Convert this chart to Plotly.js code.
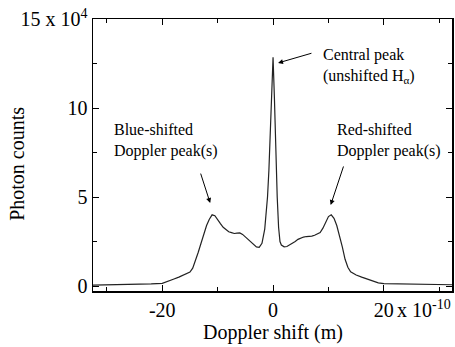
<!DOCTYPE html>
<html>
<head>
<meta charset="utf-8">
<script src="https://cdn.plot.ly/plotly-3.0.1.min.js"></script>
<style>html,body{margin:0;padding:0;background:#fff;}#chart{width:455px;height:347px;}</style>
</head>
<body>
<div id="chart"></div>
<script>
// Doppler shift (units of 1e-10 m)
const shift = [-32.5,-30,-25,-22,-20,-19,-18,-17,-16,-15,-14.5,-14,-13.5,-13,-12.5,-12,-11.5,-11,-10.5,-10,-9.5,-9,-8.5,-8,-7.5,-7,-6.5,-6,-5.5,-5,-4.5,-4,-3.5,-3,-2.5,-2,-1.5,-1,-0.75,-0.5,-0.25,0,0.25,0.5,0.75,1,1.25,1.5,2,2.5,3,3.5,4,4.5,5,5.5,6,6.5,7,7.5,8,8.5,9,9.5,10,10.5,11,11.5,12,12.5,13,13.5,14,15,16,17,18,19,20,25,30,32.5];
// Photon counts (units of 1e4)
const counts = [0.05,0.06,0.08,0.12,0.15,0.25,0.38,0.5,0.62,0.78,1.0,1.4,1.9,2.4,2.9,3.4,3.75,4.0,3.95,3.7,3.5,3.3,3.15,3.05,3.0,2.95,2.97,2.98,2.9,2.75,2.6,2.45,2.3,2.2,2.17,2.4,3.2,5.0,6.5,8.5,11.0,12.85,10.5,7.5,5.0,3.3,2.5,2.3,2.2,2.22,2.3,2.4,2.5,2.62,2.7,2.75,2.78,2.78,2.8,2.85,2.92,3.0,3.25,3.6,3.9,4.0,3.8,3.4,2.85,2.2,1.5,1.05,0.8,0.62,0.5,0.38,0.27,0.18,0.13,0.1,0.08,0.07];

const xTickVals = [-20, 0, 20];
const xTickText = ["-20", "0", "20"];
const yTickVals = [0, 5, 10, 15];
const yTickText = ["0", "5", "10", "15 x 10<sup>4</sup>"];

const FONT = "Liberation Serif, Times New Roman, serif";

const trace = {
  x: shift, y: counts, type: "scatter", mode: "lines",
  line: {color: "#222", width: 1.2}, hoverinfo: "skip"
};

const axisCommon = {
  showgrid: false, zeroline: false, showline: true, linecolor: "#000", linewidth: 1.5,
  mirror: "allticks", ticks: "inside", ticklen: 6, tickwidth: 1, tickcolor: "#000",
  tickfont: {family: FONT, size: 20, color: "#000"}, tickmode: "array"
};

const layout = {
  width: 455, height: 347,
  margin: {l: 93, r: 3, t: 19, b: 56},
  paper_bgcolor: "#fff", plot_bgcolor: "#fff",
  showlegend: false,
  font: {family: FONT, color: "#000"},
  xaxis: Object.assign({}, axisCommon, {
    range: [-32.5, 32.3], tickvals: xTickVals, ticktext: xTickText,
    minor: {dtick: 10, tick0: 0, ticks: "inside", ticklen: 4, tickcolor: "#000"}
  }),
  yaxis: Object.assign({}, axisCommon, {
    range: [-0.28, 15], tickvals: yTickVals, ticktext: yTickText,
    minor: {dtick: 2.5, tick0: 0, ticks: "inside", ticklen: 4, tickcolor: "#000"}
  }),
  annotations: [
    {xref: "paper", yref: "paper", x: 0.5, y: -0.154, xanchor: "center", yanchor: "middle",
     text: "Doppler shift (m)", showarrow: false, font: {family: FONT, size: 20, color: "#000"}},
    {xref: "paper", yref: "paper", x: -0.212, y: 0.467, xanchor: "center", yanchor: "middle",
     text: "Photon counts", textangle: -90, showarrow: false, font: {family: FONT, size: 20, color: "#000"}},
    {xref: "x", yref: "paper", x: 22.0, y: -0.066, xanchor: "left", yanchor: "middle",
     text: "x 10<sup>-10</sup>", showarrow: false, font: {family: FONT, size: 20, color: "#000"}},
    {xref: "x", yref: "y", x: 8.65, y: 12.36, xanchor: "left", yanchor: "middle", align: "left",
     text: "Central peak<br>(unshifted H<sub>α</sub>)", showarrow: false, font: {family: FONT, size: 16, color: "#000"}},
    {xref: "x", yref: "y", x: -29, y: 8.17, xanchor: "left", yanchor: "middle", align: "left",
     text: "Blue-shifted<br>Doppler peak(s)", showarrow: false, font: {family: FONT, size: 16, color: "#000"}},
    {xref: "x", yref: "y", x: 11.2, y: 8.15, xanchor: "left", yanchor: "middle", align: "left",
     text: "Red-shifted<br>Doppler peak(s)", showarrow: false, font: {family: FONT, size: 16, color: "#000"}},
    {xref: "x", yref: "y", x: 0.9, y: 12.53, axref: "x", ayref: "y", ax: 7.2, ay: 13.1,
     text: "", showarrow: true, arrowhead: 2, arrowsize: 1, arrowwidth: 1, arrowcolor: "#000"},
    {xref: "x", yref: "y", x: -11.35, y: 4.66, axref: "x", ayref: "y", ax: -13.15, ay: 6.4,
     text: "", showarrow: true, arrowhead: 2, arrowsize: 1, arrowwidth: 1, arrowcolor: "#000"},
    {xref: "x", yref: "y", x: 10.4, y: 4.55, axref: "x", ayref: "y", ax: 12.8, ay: 6.8,
     text: "", showarrow: true, arrowhead: 2, arrowsize: 1, arrowwidth: 1, arrowcolor: "#000"}
  ]
};

Plotly.newPlot("chart", [trace], layout, {staticPlot: true, displayModeBar: false});
</script>
</body>
</html>
